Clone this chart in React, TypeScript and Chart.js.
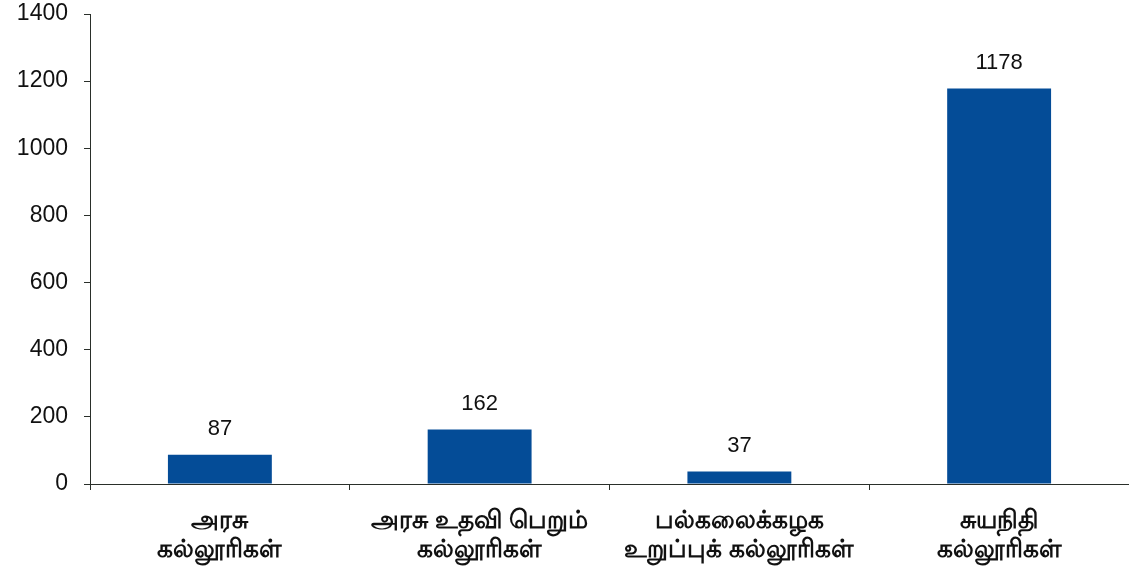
import React, { useEffect, useRef } from "react";
import { Chart, registerables } from "chart.js";

Chart.register(...registerables);

const categories: string[][] = [
  ["அரசு", "கல்லூரிகள்"],
  ["அரசு உதவி பெறும்", "கல்லூரிகள்"],
  ["பல்கலைக்கழக", "உறுப்புக் கல்லூரிகள்"],
  ["சுயநிதி", "கல்லூரிகள்"],
];
const values: number[] = [87, 162, 37, 1178];
const yMin = 0;
const yMax = 1400;
const yStep = 200;

const BAR_COLOR = "#044C97";
const AXIS_COLOR = "#2a2f2a";
const FONT = "'Liberation Sans', Arial, sans-serif";

const valueLabels = {
  id: "valueLabels",
  afterDatasetsDraw(chart: any) {
    const ctx = chart.ctx;
    const meta = chart.getDatasetMeta(0);
    ctx.save();
    ctx.font = `22px ${FONT}`;
    ctx.fillStyle = "#111";
    ctx.textAlign = "center";
    ctx.textBaseline = "middle";
    meta.data.forEach((bar: any, i: number) => {
      ctx.fillText(String(values[i]), bar.x, bar.y - 26);
    });
    ctx.restore();
  },
};

export default function App() {
  const ref = useRef<HTMLCanvasElement | null>(null);
  useEffect(() => {
    if (!ref.current) return;
    const chart = new Chart(ref.current, {
      type: "bar",
      data: {
        labels: categories,
        datasets: [
          {
            data: values,
            backgroundColor: BAR_COLOR,
            borderWidth: 0,
            barPercentage: 0.4,
            categoryPercentage: 1,
          },
        ],
      },
      options: {
        animation: false,
        responsive: false,
        maintainAspectRatio: false,
        layout: { padding: { top: 1, right: 0, bottom: 0, left: 0 } },
        plugins: { legend: { display: false }, tooltip: { enabled: false } },
        scales: {
          x: {
            offset: true,
            grid: {
              display: true,
              drawOnChartArea: false,
              drawTicks: true,
              tickLength: 6,
              tickColor: AXIS_COLOR,
              offset: true,
            },
            border: { display: true, color: AXIS_COLOR, width: 1 },
            ticks: {
              color: "#111",
              font: { family: FONT, size: 25, weight: "bold", lineHeight: 1.15 },
              padding: 17,
              maxRotation: 0,
              autoSkip: false,
            },
            afterFit(scale: any) {
              scale.height = 83;
            },
          },
          y: {
            min: yMin,
            max: yMax,
            grid: {
              display: true,
              drawOnChartArea: false,
              drawTicks: true,
              tickLength: 6,
              tickColor: AXIS_COLOR,
            },
            border: { display: true, color: AXIS_COLOR, width: 1 },
            ticks: {
              stepSize: yStep,
              color: "#111",
              font: { family: FONT, size: 23 },
              padding: 16,
              callback: (v: any) => String(v),
            },
            afterFit(scale: any) {
              scale.width = 90;
              scale.paddingTop = 14;
              scale.paddingBottom = 0;
            },
          },
        },
      },
      plugins: [valueLabels],
    });
    return () => chart.destroy();
  }, []);
  return (
    <div style={{ position: "fixed", left: 0, top: 0, width: 1129, height: 567, background: "#fff" }}>
      <canvas ref={ref} width={1129} height={567} style={{ display: "block" }} />
    </div>
  );
}
